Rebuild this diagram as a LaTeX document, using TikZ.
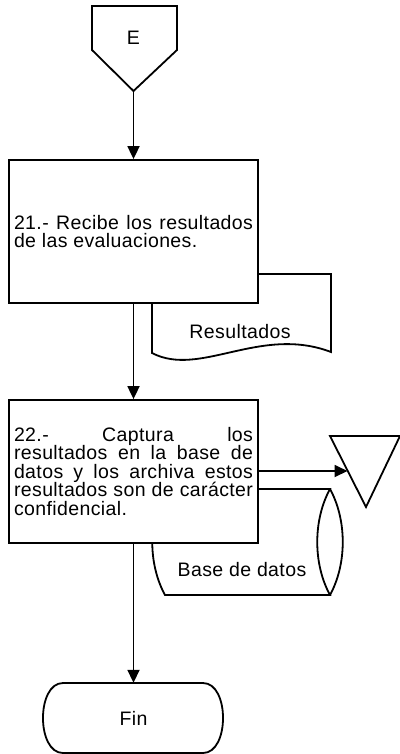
\documentclass[tikz,border=0pt]{standalone}
\usepackage{fontspec}
\setmainfont{Liberation Sans}[LetterSpace=2]
\usetikzlibrary{arrows.meta}
\definecolor{lineblack}{RGB}{0,0,0}
\tikzset{
  flowline/.style={line width=1.8pt, draw=lineblack},
  flowarrow/.style={flowline, -{Triangle[length=13pt,width=12pt]}},
  procbox/.style={flowline, fill=white, minimum width=249pt, minimum height=143pt,
    text width=239pt, inner sep=5pt, align=justify},
  flowtext/.style={font=\fontsize{19.5}{18.5}\selectfont}
}
\begin{document}
\begin{tikzpicture}[x=1pt, y=-1pt, flowtext]
		\useasboundingbox (0,0) rectangle (399,754);
		
		% conector de entrada E
		\draw[flowline] (92,6) -- (177,6) -- (177,50) -- (133.5,91) -- (92,50) -- cycle;
		\node (entrada) at (133.5,38) {E};
		\coordinate (entradapunta) at (133.5,91);
		
		% documento Resultados
		\draw[flowline, fill=white] (152,274) -- (331,274) -- (331,352)
			.. controls (260,325) and (200,378) .. (152,353) -- cycle;
		\node (resultados) at (240,332) {Resultados};
		
		% paso 21
		\node[procbox] (recibe) at (133.5,231.5)
			{21.- Recibe los resultados\linebreak de las evaluaciones.};
		
		% base de datos
		\draw[flowline, fill=white] (165,489) -- (330,489)
			.. controls (313,520) and (313,564) .. (330,595) -- (165,595)
			.. controls (148,564) and (148,520) .. (165,489) -- cycle;
		\draw[flowline] (330,489) .. controls (347,520) and (347,564) .. (330,595);
		\node (basedatos) at (242,570) {Base de datos};
		
		% paso 22
		\node[procbox] (captura) at (133.5,471.5)
			{22.- Captura los\linebreak resultados en la base de\linebreak datos y los archiva estos\linebreak resultados son de carácter\linebreak confidencial.};
		
		% archivo
		\draw[flowline] (330,436) -- (400,436) -- (366,507) -- cycle;
		\coordinate (archivo) at (347.5,471);
		
		% terminal Fin
		\draw[flowline] (63,683) -- (203,683) .. controls (229.7,683) and (229.7,753) .. (203,753)
			-- (63,753) .. controls (36.3,753) and (36.3,683) .. (63,683) -- cycle;
		\node[minimum width=180pt, minimum height=70pt, inner sep=0pt] (fin) at (133.5,718) {Fin};
		
		% conectores
		\draw[flowarrow] (entradapunta) -- (recibe.north);
		\draw[flowarrow] (recibe.south) -- (captura.north);
		\draw[flowarrow] (captura.east |- archivo) -- (archivo);
		\draw[flowarrow] (captura.south) -- (fin.north);
	\end{tikzpicture}
\end{document}
